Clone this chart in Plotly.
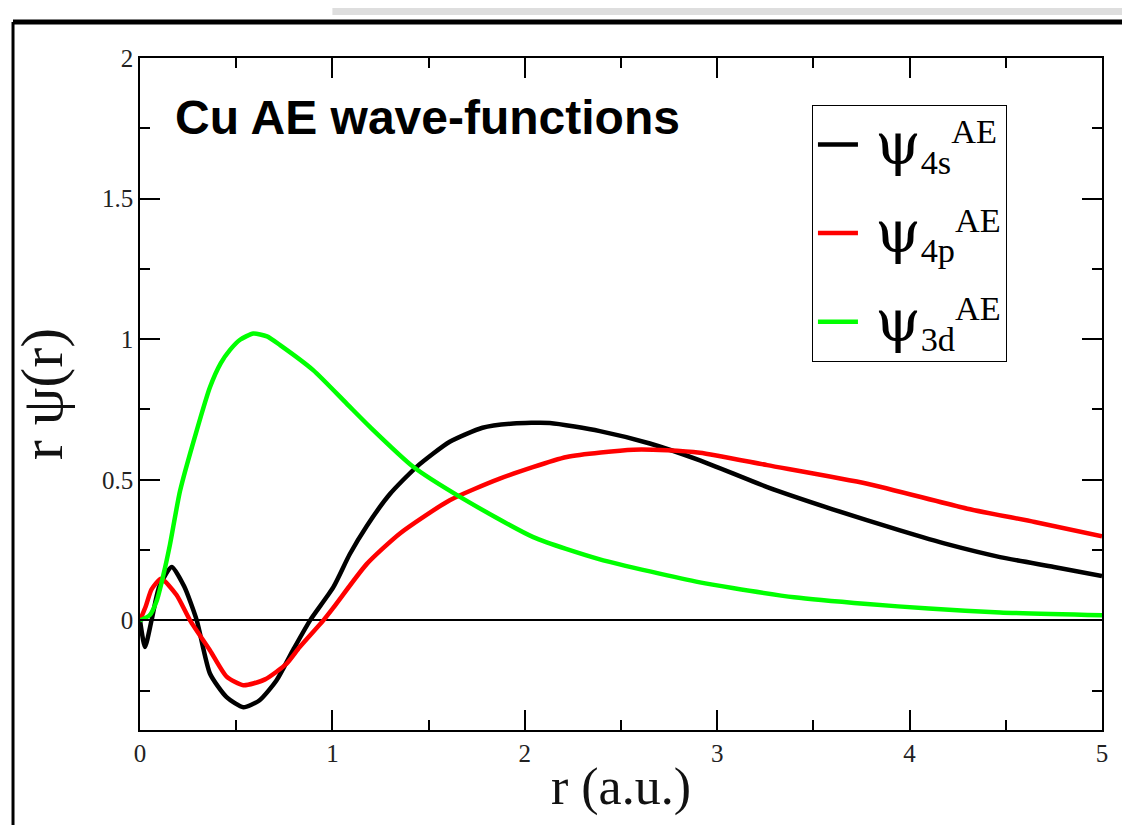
import plotly.graph_objects as go

# ---- data ----
r_4s = [0, 0.026, 0.06, 0.1, 0.165, 0.23, 0.295, 0.364, 0.45, 0.537, 0.62, 0.71, 0.8, 0.884,
        1.005, 1.09, 1.178, 1.3, 1.438, 1.61, 1.78, 1.94, 2.13, 2.39, 2.65, 2.91, 3.26, 3.6,
        3.95, 4.2, 4.47, 4.75, 5.0]
psi_4s = [0, -0.095, 0.0, 0.12, 0.19, 0.12, 0.0, -0.19, -0.273, -0.309, -0.285, -0.213, -0.10, 0.0,
          0.118, 0.235, 0.335, 0.45, 0.546, 0.635, 0.685, 0.70, 0.702, 0.673, 0.629, 0.569, 0.474, 0.395,
          0.32, 0.27, 0.225, 0.19, 0.158]

r_4p = [0, 0.03, 0.06, 0.11, 0.19, 0.26, 0.364, 0.45, 0.537, 0.65, 0.762, 0.83, 0.953, 1.005,
        1.178, 1.351, 1.61, 1.87, 2.218, 2.564, 2.74, 2.91, 3.26, 3.78, 4.3, 4.65, 5.0]
psi_4p = [0, 0.05, 0.11, 0.148, 0.09, 0.0, -0.107, -0.20, -0.231, -0.21, -0.154, -0.095, 0.0, 0.045,
          0.2, 0.309, 0.427, 0.504, 0.581, 0.607, 0.605, 0.596, 0.552, 0.486, 0.397, 0.35, 0.299]

r_3d = [0, 0.05, 0.087, 0.121, 0.156, 0.208, 0.295, 0.364, 0.42, 0.468, 0.52, 0.589, 0.66, 0.728,
        0.90, 1.074, 1.195, 1.42, 1.663, 2.044, 2.39, 2.91, 3.08, 3.4, 3.78, 4.1, 4.47, 5.0]
psi_3d = [0, 0.018, 0.07, 0.16, 0.27, 0.46, 0.676, 0.83, 0.915, 0.962, 0.998, 1.02, 1.01, 0.979,
          0.89, 0.771, 0.688, 0.546, 0.439, 0.296, 0.217, 0.135, 0.115, 0.082, 0.058, 0.042, 0.028, 0.018]

psi_span = '<span style="font-family:DejaVu Serif;font-size:58px">ψ</span>'
names = ["\u00a0" + psi_span + "<sub>4s</sub><sup>AE</sup>",
         "\u00a0" + psi_span + "<sub>4p</sub><sup>AE</sup>",
         "\u00a0" + psi_span + "<sub>3d</sub><sup>AE</sup>"]
colors = ["#000000", "#ff0000", "#00ff00"]

x_ticks = [0, 1, 2, 3, 4, 5]
y_ticks = [0, 0.5, 1, 1.5, 2]
y_tick_text = ["0", "0.5", "1", "1.5", "2"]

fig = go.Figure()
for i, (rr, vv, nm, c) in enumerate(zip([r_4s, r_4p, r_3d], [psi_4s, psi_4p, psi_3d], names, colors)):
    fig.add_trace(go.Scatter(x=rr, y=vv, mode="lines", name=nm, legendgroup=f"g{i}",
                             line=dict(color=c, width=4.5, shape="spline", smoothing=0.6)))

serif = "Liberation Serif, Times New Roman, serif"

# page body has an 8px margin: the figure is sized/margined so the plot area lands at
# x 140..1102, y 58..730 of the window
fig.update_layout(
    width=1122, height=817,
    paper_bgcolor="white", plot_bgcolor="white",
    margin=dict(l=132, r=28, t=50, b=95),
    showlegend=True,
    legend=dict(x=0.6985, y=0.93, xanchor="left", yanchor="top",
                bordercolor="black", borderwidth=1, bgcolor="white",
                font=dict(family=serif, size=49, color="black"),
                tracegroupgap=22, itemwidth=40),
    xaxis=dict(range=[0, 5], tickvals=x_ticks, ticks="inside", ticklen=20, tickwidth=1.5,
               tickcolor="black", showline=True, linecolor="black", linewidth=1.5, mirror="ticks",
               showgrid=False, zeroline=False,
               tickfont=dict(family=serif, size=25, color="#222"),
               minor=dict(dtick=0.5, ticks="inside", ticklen=10, tickwidth=1.5, tickcolor="black"),
               title=dict(text="r (a.u.)", font=dict(family=serif, size=52, color="#111"), standoff=2)),
    yaxis=dict(range=[-0.39, 2], tickvals=y_ticks, ticktext=y_tick_text, ticks="inside", ticklen=20,
               tickwidth=1.5, tickcolor="black", showline=True, linecolor="black", linewidth=1.5,
               mirror="ticks", showgrid=False, zeroline=True, zerolinecolor="black", zerolinewidth=1.5,
               tickfont=dict(family=serif, size=25, color="#222"),
               minor=dict(dtick=0.25, ticks="inside", ticklen=10, tickwidth=1.5, tickcolor="black"),
               title=dict(text="r ψ(r)", font=dict(family=serif, size=60, color="#111"), standoff=20)),
)

fig.add_annotation(text="<b>Cu AE wave-functions</b>", xref="paper", yref="paper",
                   x=0.034, y=0.911, xanchor="left", yanchor="middle", showarrow=False,
                   font=dict(family="Liberation Sans, Arial, sans-serif", size=48, color="black"))

# outer slide frame and top shadow bar
fig.add_shape(type="rect", xref="paper", yref="paper", x0=0.2, x1=1.04, y0=1.064, y1=1.075,
              fillcolor="#dedede", line=dict(width=0), layer="below")
fig.add_shape(type="rect", xref="paper", yref="paper", x0=0.2, x1=1.04, y0=1.075, y1=1.09,
              fillcolor="#bdbdbd", line=dict(width=0), layer="below")
fig.add_shape(type="line", xref="paper", yref="paper", x0=-0.132, x1=1.04, y0=1.0536, y1=1.0536,
              line=dict(color="black", width=5))
fig.add_shape(type="line", xref="paper", yref="paper", x0=-0.132, x1=-0.132, y0=1.0536, y1=-0.15,
              line=dict(color="black", width=3))

fig.write_html("out.html")
